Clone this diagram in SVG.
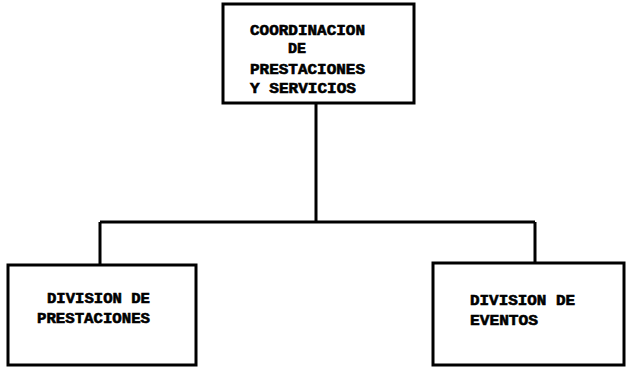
<svg xmlns="http://www.w3.org/2000/svg" width="627" height="367" viewBox="0 0 627 367">
<style>
.box{fill:#fff;stroke:#000;stroke-width:3}
.ln{fill:none;stroke:#000;stroke-width:3}
text{font-family:"Liberation Mono","DejaVu Sans Mono",monospace;font-weight:bold;font-size:15px;fill:#000;stroke:#000;stroke-width:0.6}
</style>
<rect width="627" height="367" fill="#fff"/>
<g id="connectors">
<path class="ln" d="M316,103 V222 M100,222 H535 M100,222 V265 M535,222 V263"/>
</g>
<g id="coordinacion">
<rect class="box" x="223" y="4" width="191" height="99"/>
<text x="250" y="35" textLength="115" lengthAdjust="spacingAndGlyphs">COORDINACION</text>
<text x="288" y="53">DE</text>
<text x="250" y="74" textLength="115" lengthAdjust="spacingAndGlyphs">PRESTACIONES</text>
<text x="250" y="93" textLength="106" lengthAdjust="spacingAndGlyphs">Y SERVICIOS</text>
</g>
<g id="prestaciones">
<rect class="box" x="8" y="265" width="188" height="100"/>
<text x="47" y="303" textLength="103" lengthAdjust="spacingAndGlyphs">DIVISION DE</text>
<text x="37" y="323" textLength="113" lengthAdjust="spacingAndGlyphs">PRESTACIONES</text>
</g>
<g id="eventos">
<rect class="box" x="433" y="263" width="191" height="102"/>
<text x="470" y="305" textLength="105" lengthAdjust="spacingAndGlyphs">DIVISION DE</text>
<text x="470" y="325" textLength="68" lengthAdjust="spacingAndGlyphs">EVENTOS</text>
</g>
</svg>
